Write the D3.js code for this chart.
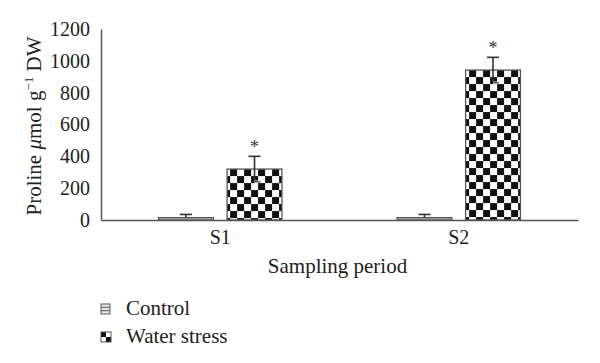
<!DOCTYPE html>
<html>
<head>
<meta charset="utf-8">
<script src="https://cdn.jsdelivr.net/npm/d3@7/dist/d3.min.js"></script>
<style>
body{margin:0;background:#fff;}
svg{display:block;}
svg text{font-family:"Liberation Serif","DejaVu Serif",serif;}
</style>
</head>
<body>
<svg id="chart" width="600" height="363"></svg>
<script>
const categories = ["S1", "S2"];
const seriesNames = ["Control", "Water stress"];
const controlValues = [15, 15];
const controlErrors = [20, 20];
const waterValues = [320, 942];
const waterErrors = [80, 80];
const yTicks = [0, 200, 400, 600, 800, 1000, 1200];
const yTitle = "Proline";
const xTitle = "Sampling period";
const significant = ["*", "*"];

const data = categories.map((c, i) => ({
  cat: c,
  vals: [
    {s: seriesNames[0], v: controlValues[i], e: controlErrors[i], sig: null},
    {s: seriesNames[1], v: waterValues[i], e: waterErrors[i], sig: significant[i]}
  ]
}));

const FONT = '"Liberation Serif", "DejaVu Serif", serif';
const svg = d3.select("#chart");
const m = {left: 101, right: 22, top: 29, bottom: 143};
const W = 600, H = 363;
const x0 = d3.scaleBand().domain(categories).range([m.left, W - m.right]).paddingInner(0).paddingOuter(0);
const x1 = d3.scaleBand().domain(seriesNames).range([0, x0.bandwidth()]).paddingInner(0.2).paddingOuter(0.84);
const y = d3.scaleLinear().domain([0, 1200]).range([H - m.bottom, m.top]);

const defs = svg.append("defs");
function checker(id, px, py, size) {
  const p = defs.append("pattern").attr("id", id).attr("patternUnits", "userSpaceOnUse")
    .attr("x", px).attr("y", py).attr("width", size * 2).attr("height", size * 2);
  p.append("rect").attr("width", size * 2).attr("height", size * 2).attr("fill", "#fff");
  p.append("rect").attr("x", 0).attr("y", 0).attr("width", size).attr("height", size).attr("fill", "#111");
  p.append("rect").attr("x", size).attr("y", size).attr("width", size).attr("height", size).attr("fill", "#111");
}

// bars
const groups = svg.append("g").selectAll("g").data(data).join("g")
  .attr("transform", d => `translate(${x0(d.cat)},0)`);

groups.each(function(d, gi) {
  const g = d3.select(this);
  d.vals.forEach((b, si) => {
    const bx = x1(b.s), bw = x1.bandwidth();
    const top = y(b.v), base = y(0);
    let fill;
    if (si === 1) {
      const id = "chk" + gi;
      checker(id, x0(d.cat) + bx, top, 7);
      fill = `url(#${id})`;
    } else {
      fill = "#e6e6e6";
    }
    g.append("rect").attr("x", bx).attr("y", top).attr("width", bw).attr("height", base - top)
      .attr("fill", fill).attr("stroke", "#555").attr("stroke-width", 1.3);
    if (si === 0) {
      g.append("line").attr("x1", bx).attr("x2", bx + bw)
        .attr("y1", (top + base) / 2).attr("y2", (top + base) / 2)
        .attr("stroke", "#777").attr("stroke-width", 0.8);
    }
    const cx = bx + bw / 2;
    const eTop = y(b.v + b.e), eBot = y(Math.max(0, b.v - b.e));
    const cap = 6;
    g.append("line").attr("x1", cx).attr("x2", cx).attr("y1", eTop).attr("y2", si === 1 ? eBot : top)
      .attr("stroke", "#333").attr("stroke-width", 1.6);
    g.append("line").attr("x1", cx - cap).attr("x2", cx + cap).attr("y1", eTop).attr("y2", eTop)
      .attr("stroke", "#333").attr("stroke-width", 1.6);
    if (si === 1) {
      g.append("line").attr("x1", cx).attr("x2", cx + cap).attr("y1", eBot).attr("y2", eBot)
        .attr("stroke", "#fff").attr("stroke-width", 2.5);
      g.append("line").attr("x1", cx).attr("x2", cx + cap).attr("y1", eBot).attr("y2", eBot)
        .attr("stroke", "#333").attr("stroke-width", 1.2);
    }
    if (b.sig) {
      g.append("text").attr("x", cx).attr("y", eTop - 3).attr("text-anchor", "middle")
        .attr("font-size", 18).attr("fill", "#333").text(b.sig);
    }
  });
});

// axes
const yAxis = d3.axisLeft(y).tickValues(yTicks).tickFormat(d3.format("d")).tickSize(0).tickPadding(11);
const yg = svg.append("g").attr("transform", `translate(${m.left},0)`).call(yAxis)
  .attr("font-family", FONT);
yg.select(".domain").attr("stroke", "#555").attr("stroke-width", 1.5);
yg.selectAll("text").attr("font-size", 20).attr("fill", "#222");

const xAxis = d3.axisBottom(x0).tickSize(0).tickPadding(10);
const xg = svg.append("g").attr("transform", `translate(0,${y(0)})`).call(xAxis)
  .attr("font-family", FONT);
xg.select(".domain").attr("stroke", "#555").attr("stroke-width", 1.5);
xg.selectAll("text").attr("font-size", 20).attr("fill", "#222");

svg.append("text").attr("x", (m.left + W - m.right) / 2 - 2).attr("y", 273)
  .attr("text-anchor", "middle").attr("font-size", 21).attr("fill", "#222").text(xTitle);

const yt = svg.append("text").attr("transform", "translate(41,126) rotate(-90)")
  .attr("text-anchor", "middle").attr("font-size", 21).attr("fill", "#222");
yt.append("tspan").text(yTitle + " ");
yt.append("tspan").attr("font-style", "italic").text("μ");
yt.append("tspan").text("mol g");
yt.append("tspan").attr("font-size", 13).attr("dy", -8).text("−1");
yt.append("tspan").attr("dy", 8).text(" DW");

// legend
const leg = svg.append("g");
seriesNames.forEach((s, i) => {
  const ly = 304 + i * 28;
  if (i === 0) {
    leg.append("rect").attr("x", 101).attr("y", ly).attr("width", 9).attr("height", 10)
      .attr("fill", "#e6e6e6").attr("stroke", "#555").attr("stroke-width", 1);
    leg.append("line").attr("x1", 101).attr("x2", 110).attr("y1", ly + 3.3).attr("y2", ly + 3.3).attr("stroke", "#555");
    leg.append("line").attr("x1", 101).attr("x2", 110).attr("y1", ly + 6.7).attr("y2", ly + 6.7).attr("stroke", "#555");
  } else {
    checker("legchk", 101, ly, 5);
    leg.append("rect").attr("x", 101).attr("y", ly).attr("width", 10).attr("height", 10)
      .attr("fill", "url(#legchk)").attr("stroke", "#555").attr("stroke-width", 1);
  }
  leg.append("text").attr("x", 126).attr("y", ly + 11).attr("font-size", 21).attr("fill", "#222").text(s);
});
</script>
</body>
</html>
